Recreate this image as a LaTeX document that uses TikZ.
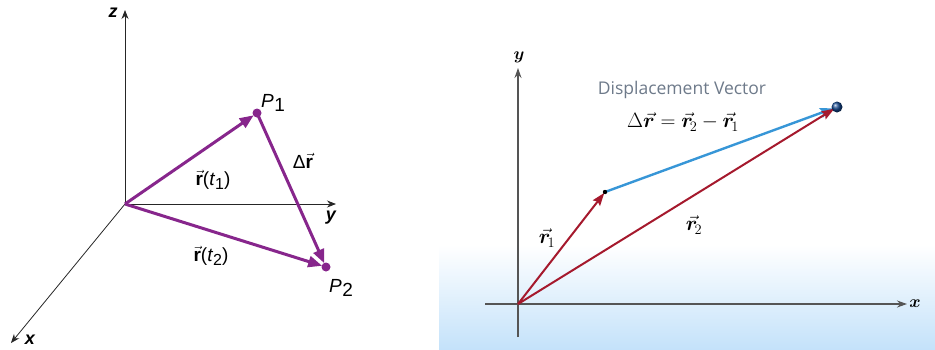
\documentclass[tikz,border=0pt]{standalone}
\usepackage{amsmath,bm}
\usepackage{fontspec}
\setsansfont{Liberation Sans}
\newfontfamily\dispfont{Open Sans}
\usetikzlibrary{arrows.meta}
\definecolor{vpurple}{RGB}{135,38,140}
\definecolor{vred}{RGB}{165,25,45}
\definecolor{vblue}{RGB}{55,150,215}
\definecolor{vdot}{RGB}{20,70,140}
\definecolor{vaxis}{RGB}{85,85,85}
\definecolor{vgray}{RGB}{110,122,138}
\definecolor{vbg}{RGB}{196,226,250}
\tikzset{
  axis3d/.style={draw=black!85, line width=0.8pt, -{Stealth[length=9pt,width=7pt]}},
  pvec/.style={draw=vpurple, line width=3pt, -{Triangle[length=14pt,width=11pt]}},
  lbl/.style={font=\sffamily\fontsize{19}{21}\selectfont, inner sep=0pt},
  axlbl/.style={font=\sffamily\bfseries\itshape\fontsize{18}{20}\selectfont, inner sep=0pt},
  axis2d/.style={draw=vaxis, line width=1.1pt},
  rvec/.style={draw=vred, line width=2pt, -{Stealth[length=13pt,width=9pt,inset=2pt]}},
  bvec/.style={draw=vblue, line width=2.4pt, -{Stealth[length=13pt,width=10pt,inset=2pt]}},
  mlbl/.style={font=\fontsize{21}{23}\selectfont, inner sep=0pt},
}
\begin{document}
\begin{tikzpicture}[x=1pt,y=-1pt]
\useasboundingbox (0,0) rectangle (935,349);
% ---------- left panel ----------
\coordinate (O) at (125,204);
\coordinate (Zt) at (125,10);
\coordinate (Yt) at (336,204);
\coordinate (Xt) at (11,343);
\coordinate (P1) at (257,113);
\coordinate (P2) at (326,267);
\draw[axis3d] (O) -- (Zt);
\draw[axis3d] (O) -- (Yt);
\draw[axis3d] (O) -- (Xt);
\node[axlbl] (zl) at (113,13) {z};
\node[axlbl] (yl) at (331,218) {y};
\node[axlbl] (xl) at (30,340) {x};
\draw[pvec, shorten >=4pt] (O) -- (P1);
\draw[pvec, shorten >=4pt] (O) -- (P2);
\draw[pvec, shorten >=4pt, shorten <=1pt] (P1) -- (P2);
\fill[vpurple] (P1) circle (4.5pt);
\fill[vpurple] (P2) circle (4.5pt);
\node[lbl] (p1l) at (273,103) {\textit{P}\kern0.5pt\raisebox{-4pt}{1}};
\node[lbl] (p2l) at (341,288) {\textit{P}\kern0.5pt\raisebox{-4pt}{2}};
\node[lbl] (rt1) at (213,180) {$\vec{\textbf{r}}$(\textit{t}\raisebox{-4pt}{\fontsize{16}{18}\selectfont 1})};
\node[lbl] (rt2) at (211,256) {$\vec{\textbf{r}}$(\textit{t}\raisebox{-4pt}{\fontsize{16}{18}\selectfont 2})};
\node[lbl] (dr) at (303,161) {Δ$\vec{\textbf{r}}$};
% ---------- right panel ----------
\fill[white] (439,0) rectangle (935,245);
\shade[top color=white, bottom color=vbg] (439,245) rectangle (935,349);
\coordinate (O2) at (518,304);
\coordinate (Y2t) at (518,68);
\coordinate (Y2b) at (518,337);
\coordinate (X2l) at (485,304);
\coordinate (X2t) at (907,304);
\coordinate (R1) at (605,192);
\coordinate (B) at (837,107);
\draw[axis2d] (Y2b) -- (O2);
\draw[axis2d, -{Stealth[length=10pt,width=7pt]}] (O2) -- (Y2t);
\draw[axis2d] (X2l) -- (O2);
\draw[axis2d, -{Stealth[length=10pt,width=7pt]}] (O2) -- (X2t);
\node[font=\fontsize{19}{21}\selectfont, inner sep=0pt] (yl2) at (519,57) {$\bm y$};
\node[font=\fontsize{19}{21}\selectfont, inner sep=0pt] (xl2) at (915,304) {$\bm x$};
\draw[rvec, shorten >=1pt] (O2) -- (R1);
\draw[bvec, shorten >=4pt] (R1) -- (B);
\draw[rvec, shorten >=3pt] (O2) -- (B);
\fill[black] (R1) circle (2.2pt);
\shade[ball color=vdot] (B) circle (5.5pt);
\node[font=\dispfont\fontsize{17.5}{20}\selectfont, text=vgray, inner sep=0pt] (dv) at (682,90) {Displacement Vector};
\node[mlbl] (eq) at (683,122) {$\Delta\vec{\bm r}=\vec{\bm r}_{\!2}-\vec{\bm r}_{\!1}$};
\node[mlbl] (r1l) at (547,238) {$\vec{\bm r}_{\!1}$};
\node[mlbl] (r2l) at (694,225) {$\vec{\bm r}_{\!2}$};
\end{tikzpicture}
\end{document}
